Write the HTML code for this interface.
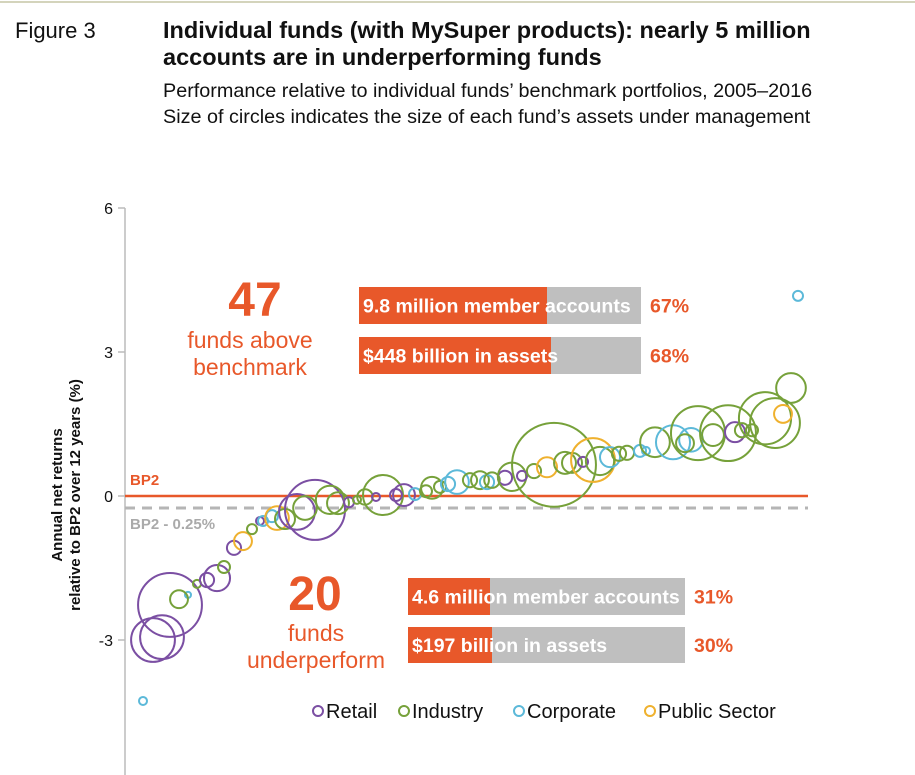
<!DOCTYPE html>
<html><head><meta charset="utf-8"><style>
body{margin:0;background:#fff;width:915px;height:775px;overflow:hidden;font-family:"Liberation Sans",sans-serif}
</style></head><body>
<svg id="c" width="915" height="775" style="position:absolute;left:0;top:0;font-family:'Liberation Sans',sans-serif">
<line x1="0" y1="2" x2="915" y2="2" stroke="#a8a878" stroke-width="1"/>
<text x="15" y="38" font-size="22" fill="#111">Figure 3</text>
<text x="163" y="38" font-size="23.5" font-weight="bold" fill="#111">Individual funds (with MySuper products): nearly 5 million</text>
<text x="163" y="65" font-size="23.5" font-weight="bold" fill="#111">accounts are in underperforming funds</text>
<text x="163" y="97" font-size="19.8" fill="#111">Performance relative to individual funds’ benchmark portfolios, 2005–2016</text>
<text x="163" y="123" font-size="19.8" fill="#111">Size of circles indicates the size of each fund’s assets under management</text>
<g id="axis"></g>
<g id="marks"></g>
<g>
<text x="255" y="316" font-size="48" font-weight="bold" fill="#e8582a" text-anchor="middle">47</text>
<text x="250" y="348" font-size="23" fill="#e8582a" text-anchor="middle">funds above</text>
<text x="250" y="375" font-size="23" fill="#e8582a" text-anchor="middle">benchmark</text>
<text x="315" y="610" font-size="48" font-weight="bold" fill="#e8582a" text-anchor="middle">20</text>
<text x="316" y="641" font-size="23" fill="#e8582a" text-anchor="middle">funds</text>
<text x="316" y="668" font-size="23" fill="#e8582a" text-anchor="middle">underperform</text>
</g>
<g id="bars"></g>
<g id="legend"></g>
</svg>
<script>
const ranks=[1.8,2.8,3.7,4.5,6.3,5.4,7.2,8.2,9.2,9.9,10.9,11.8,12.7,13.5,13.8,14.7,15.2,16,17.2,18,19,20.5,21.3,22.4,23.2,24,25.1,25.8,27.1,27.9,29,30.1,30.7,31.5,33.2,32.3,34.5,35.5,36.2,36.7,38,38.7,39.7,40.9,42.2,42.9,44,44.7,45.8,46.8,47.5,48.5,49.4,50.2,51.5,52.1,53,54.8,56.6,56,57.3,58.8,60.3,61,61.7,62.7,64,65,65.8,66.6,67.3];
const values=[-4.27,-3.0,-2.94,-2.27,-2.06,-2.15,-1.83,-1.75,-1.71,-1.48,-1.08,-0.94,-0.69,-0.52,-0.52,-0.42,-0.46,-0.48,-0.33,-0.25,-0.29,-0.08,-0.15,-0.13,-0.08,-0.02,-0.02,0.02,0.02,0.02,0.04,0.1,0.17,0.19,0.29,0.25,0.33,0.33,0.29,0.33,0.38,0.4,0.42,0.52,0.6,0.65,0.69,0.69,0.71,0.75,0.73,0.81,0.88,0.9,0.94,0.94,1.12,1.12,1.17,1.1,1.31,1.27,1.31,1.33,1.37,1.37,1.62,1.52,1.71,2.25,4.17];
const assets=[1.6,48,48,102,0.9,8,1.6,5,17,3.6,5,8,2.5,1.6,2.5,3.6,14,10,32,14,90,20,12,2.5,1.6,6,1.6,40,3.6,12,3.6,3.6,12,3.6,14,5,5,8,5,6,5,20,2.5,5,10,176,12,10,2.5,48,20,10,5,5,3.6,1.6,22,29,14,8,73,12,78,10,5,3.6,68,62,8,22,2.5];
const types=["C","R","R","R","C","I","I","R","R","I","R","P","I","R","C","C","P","I","R","I","R","I","I","R","I","I","R","I","R","R","C","I","I","I","C","C","I","I","C","I","R","I","R","I","P","I","I","I","R","P","I","C","I","I","C","C","I","C","C","I","I","I","I","R","I","I","I","I","P","I","C"];
const yTicks=[6,3,0,-3];
const legendLabels=["Retail","Industry","Corporate","Public Sector"];
const legendKeys=["R","I","C","P"];
const colors={R:"#7b4fa3",I:"#76a13a",C:"#5cb9d9",P:"#efb12e"};
const NS="http://www.w3.org/2000/svg";
const X=r=>125+r*10, Y=v=>496-v*48, R=a=>Math.sqrt(a*10);
function mk(t,at,p){const e=document.createElementNS(NS,t);for(const k in at)e.setAttribute(k,at[k]);(p||document.getElementById('c')).appendChild(e);return e;}
const ax=document.getElementById('axis');
mk('line',{x1:125,y1:Y(6),x2:125,y2:775,stroke:'#bbb','stroke-width':1.5},ax);
yTicks.forEach(t=>{
 const l=mk('line',{x1:118,y1:Y(t),x2:125,y2:Y(t),stroke:'#bbb','stroke-width':1.5},ax);
 
 
 const tx=mk('text',{x:113,y:Y(t)+6,'font-size':16,'text-anchor':'end',fill:'#111'},ax);
 tx.textContent=t<0?'-'+Math.abs(t):t;
 
 
});
const yl=mk('text',{transform:'translate(62,495) rotate(-90)','font-size':15,'font-weight':'bold','text-anchor':'middle',fill:'#111'},ax);


yl.innerHTML='<tspan x="0" y="0">Annual net returns</tspan><tspan x="0" y="18">relative to BP2 over 12 years (%)</tspan>';
const bp=mk('line',{x1:125,y1:Y(0),x2:808,y2:Y(0),stroke:'#e8582a','stroke-width':2.5},ax);


const bd=mk('line',{x1:125,y1:Y(-0.25),x2:808,y2:Y(-0.25),stroke:'#b5b5b5','stroke-width':3,'stroke-dasharray':'10,7'},ax);


const t1=mk('text',{x:130,y:485,'font-size':15,'font-weight':'bold',fill:'#e8582a'},ax);t1.textContent='BP2';


const t2=mk('text',{x:130,y:529,'font-size':15,'font-weight':'bold',fill:'#aaa'},ax);t2.textContent='BP2 - 0.25%';


const mg=document.getElementById('marks');
ranks.forEach((r,i)=>{
 const c=mk('circle',{cx:X(r),cy:Y(values[i]),r:R(assets[i]),fill:'none',stroke:colors[types[i]],'stroke-width':2},mg);
 
 
});
const bg=document.getElementById('bars');
const barRows=[[359,547,641,287,37,"9.8 million member accounts","67%"],[359,551,641,337,37,"$448 billion in assets","68%"],[408,490,685,578,37,"4.6 million member accounts","31%"],[408,492,685,627,36,"$197 billion in assets","30%"]];
barRows.forEach(b=>{
 mk('rect',{x:b[0],y:b[3],width:b[2]-b[0],height:b[4],fill:'#bfbfbf'},bg);
 mk('rect',{x:b[0],y:b[3],width:b[1]-b[0],height:b[4],fill:'#e8582a'},bg);
 const t=mk('text',{x:b[0]+4,y:b[3]+b[4]/2+7,'font-size':19.5,'font-weight':'bold',fill:'#fff'},bg);t.textContent=b[5];
 
 
 const p=mk('text',{x:b[2]+9,y:b[3]+b[4]/2+7,'font-size':19.5,'font-weight':'bold',fill:'#e8582a'},bg);p.textContent=b[6];
 
 
});
const lg=document.getElementById('legend');
const lx=[318,404,519,650];
legendLabels.forEach((l,i)=>{
 mk('circle',{cx:lx[i],cy:711,r:5,fill:'none',stroke:colors[legendKeys[i]],'stroke-width':2},lg);
 const t=mk('text',{x:lx[i]+8,y:718,'font-size':20,fill:'#111'},lg);t.textContent=l;
 
 
});
</script>
</body></html>
